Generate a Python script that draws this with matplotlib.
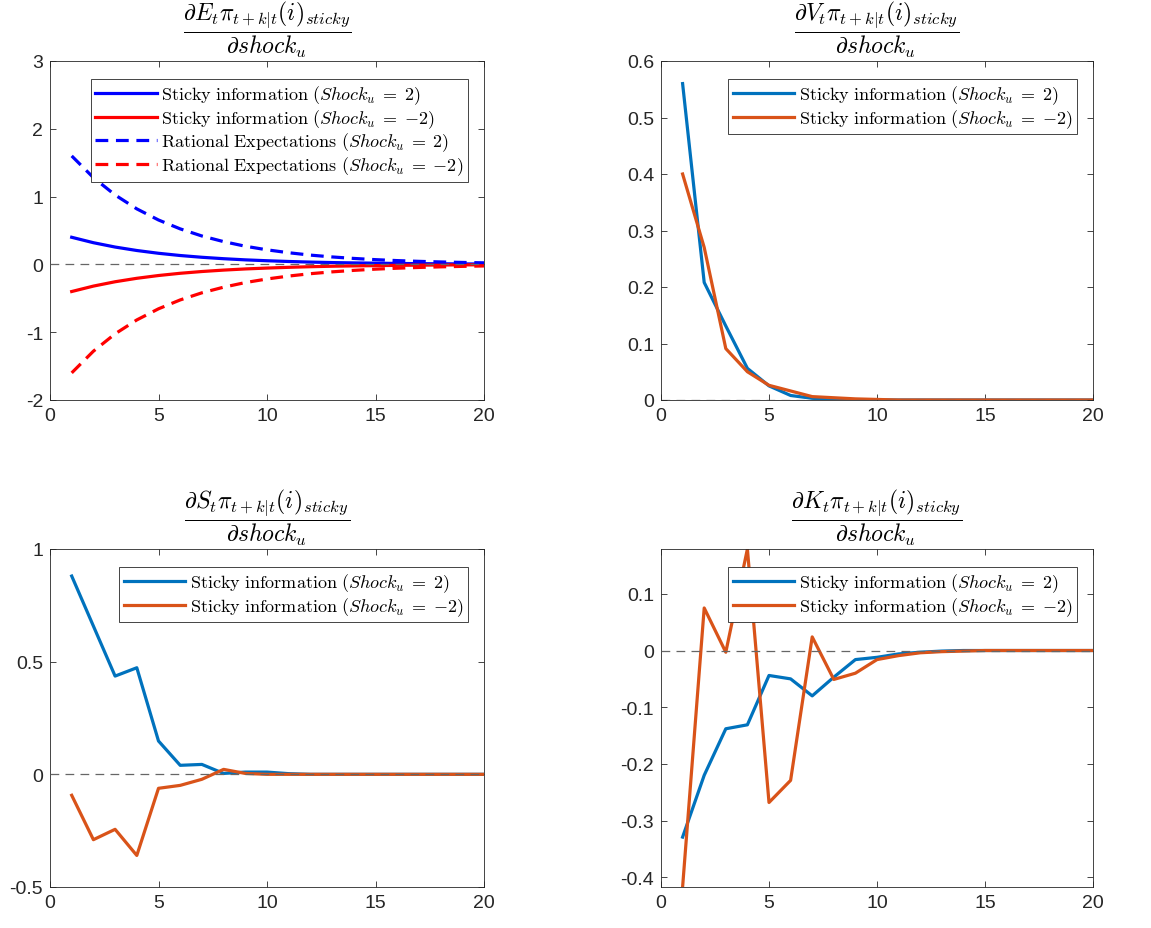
import numpy as np
import matplotlib
matplotlib.use("Agg")
import matplotlib.pyplot as plt

plt.rcParams['font.family'] = ['Liberation Sans', 'DejaVu Sans']
plt.rcParams['mathtext.fontset'] = 'cm'
plt.rcParams['axes.unicode_minus'] = False

k = np.arange(1, 21)

# panel 1: E_t
e_si_pos = [0.40, 0.32, 0.256, 0.205, 0.164, 0.131, 0.105, 0.084, 0.067, 0.054,
            0.043, 0.034, 0.027, 0.022, 0.018, 0.014, 0.011, 0.009, 0.007, 0.006]
e_si_neg = [-v for v in e_si_pos]
e_re_pos = [1.60, 1.28, 1.024, 0.819, 0.655, 0.524, 0.419, 0.336, 0.268, 0.215,
            0.172, 0.137, 0.110, 0.088, 0.070, 0.056, 0.045, 0.036, 0.029, 0.023]
e_re_neg = [-v for v in e_re_pos]

# panel 2: V_t
v_pos = [0.56, 0.208, 0.131, 0.056, 0.025, 0.008, 0.003, 0.001, 0.0, 0.0,
         0.0, 0.0, 0.0, 0.0, 0.0, 0.0, 0.0, 0.0, 0.0, 0.0]
v_neg = [0.40, 0.27, 0.091, 0.050, 0.026, 0.016, 0.006, 0.004, 0.002, 0.001,
         0.0, 0.0, 0.0, 0.0, 0.0, 0.0, 0.0, 0.0, 0.0, 0.0]

# panel 3: S_t
s_pos = [0.88, 0.658, 0.436, 0.473, 0.148, 0.040, 0.044, 0.004, 0.010, 0.010,
         0.003, 0.0, 0.0, 0.0, 0.0, 0.0, 0.0, 0.0, 0.0, 0.0]
s_neg = [-0.093, -0.290, -0.244, -0.360, -0.062, -0.049, -0.022, 0.022, 0.004, 0.0,
         0.0, 0.0, 0.0, 0.0, 0.0, 0.0, 0.0, 0.0, 0.0, 0.0]

# panel 4: K_t
k_pos = [-0.329, -0.220, -0.138, -0.131, -0.044, -0.050, -0.080, -0.047, -0.016, -0.012,
         -0.006, -0.003, -0.001, 0.0, 0.0, 0.0, 0.0, 0.0, 0.0, 0.0]
k_neg = [-0.417, 0.075, -0.003, 0.179, -0.268, -0.229, 0.024, -0.051, -0.040, -0.016,
         -0.009, -0.004, -0.002, -0.001, 0.0, 0.0, 0.0, 0.0, 0.0, 0.0]

blue = '#0072BD'
orange = '#D95319'
lab_pos = r'$\mathrm{Sticky\ information\ }(Shock_u\;=\;2)$'
lab_neg = r'$\mathrm{Sticky\ information\ }(Shock_u\;=\;{-2})$'
lab_re_pos = r'$\mathrm{Rational\ Expectations\ }(Shock_u\;=\;2)$'
lab_re_neg = r'$\mathrm{Rational\ Expectations\ }(Shock_u\;=\;{-2})$'


def title(ax, sym):
    s = r'$\dfrac{\partial ' + sym + r'_t \pi_{t+k|t}(i)_{sticky}}{\partial shock_u}$'
    ax.text(0.5, 1.006, s, transform=ax.transAxes, ha='center', va='bottom',
            fontsize=17)


def style(ax, ylim, yticks, ylabels):
    ax.set_xlim(0, 20)
    ax.set_xticks([0, 5, 10, 15, 20])
    ax.set_ylim(*ylim)
    ax.set_yticks(yticks)
    ax.set_yticklabels(ylabels)
    ax.tick_params(direction='in', top=True, right=True, length=4, width=0.6,
                   labelsize=14, colors='0.15', pad=5)
    for s in ax.spines.values():
        s.set_color('0.15')
        s.set_linewidth(0.6)
    ax.axhline(0, color='0.4', lw=0.9, ls=(0, (7, 5)), zorder=5)
    leg = ax.legend(loc='upper right', bbox_to_anchor=(0.963, 0.947), borderaxespad=0,
                    fontsize=13, handlelength=3.4, fancybox=False, framealpha=1,
                    edgecolor='0.15', borderpad=0.25, labelspacing=0.05,
                    handletextpad=0.25)
    leg.get_frame().set_linewidth(0.6)


fig = plt.figure(figsize=(11.51, 9.29), dpi=100)
W, H = 1151, 929
def place(l, t, r, b):
    return fig.add_axes([l / W, 1 - b / H, (r - l) / W, (b - t) / H])

lw = 2.3
dash = (0, (4.0, 2.4))

ax1 = place(50, 62, 484, 401)
ax1.plot(k, e_si_pos, color='b', lw=lw, label=lab_pos)
ax1.plot(k, e_si_neg, color='r', lw=lw, label=lab_neg)
ax1.plot(k, e_re_pos, color='b', lw=lw, ls=dash, label=lab_re_pos)
ax1.plot(k, e_re_neg, color='r', lw=lw, ls=dash, label=lab_re_neg)
style(ax1, (-2, 3), [-2, -1, 0, 1, 2, 3], ['-2', '-1', '0', '1', '2', '3'])
title(ax1, 'E')

ax2 = place(661, 62, 1093, 401)
ax2.plot(k, v_pos, color=blue, lw=lw, label=lab_pos)
ax2.plot(k, v_neg, color=orange, lw=lw, label=lab_neg)
style(ax2, (0, 0.6), [0, 0.1, 0.2, 0.3, 0.4, 0.5, 0.6],
      ['0', '0.1', '0.2', '0.3', '0.4', '0.5', '0.6'])
title(ax2, 'V')

ax3 = place(50, 550, 484, 888)
ax3.plot(k, s_pos, color=blue, lw=lw, label=lab_pos)
ax3.plot(k, s_neg, color=orange, lw=lw, label=lab_neg)
style(ax3, (-0.5, 1), [-0.5, 0, 0.5, 1], ['-0.5', '0', '0.5', '1'])
title(ax3, 'S')

ax4 = place(661, 550, 1093, 888)
ax4.plot(k, k_pos, color=blue, lw=lw, label=lab_pos)
ax4.plot(k, k_neg, color=orange, lw=lw, label=lab_neg)
style(ax4, (min(k_neg), max(k_neg)), [-0.4, -0.3, -0.2, -0.1, 0, 0.1],
      ['-0.4', '-0.3', '-0.2', '-0.1', '0', '0.1'])
title(ax4, 'K')

fig.savefig('out.png', dpi=100)
